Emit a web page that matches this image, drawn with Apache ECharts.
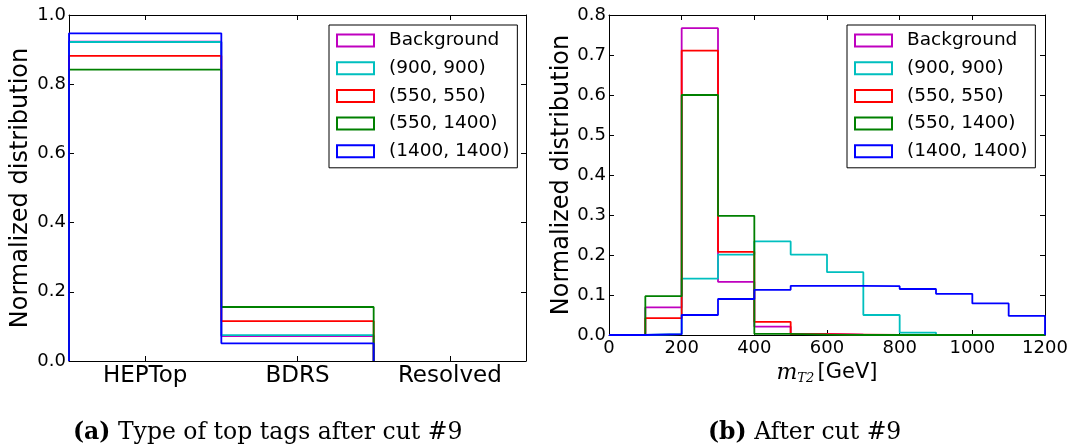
<!DOCTYPE html>
<html>
<head>
<meta charset="utf-8">
<script src="https://cdn.jsdelivr.net/npm/echarts@6/dist/echarts.min.js"></script>
<style>
html,body{margin:0;padding:0;background:#fff;}
#c{width:1073px;height:446px;}
</style>
</head>
<body>
<div id="c"></div>
<script>
// ---------- data ----------
const seriesNames = ['Background', '(900, 900)', '(550, 550)', '(550, 1400)', '(1400, 1400)'];
const seriesColors = ['#bf00bf', '#00bfbf', '#ff0000', '#008000', '#0000ff'];

// panel (a): type of top tags
const tagCategories = ['HEPTop', 'BDRS', 'Resolved'];
const tagBackground = [0.923, 0.072, 0.0];
const tag900_900 = [0.922, 0.075, 0.0];
const tag550_550 = [0.882, 0.115, 0.0];
const tag550_1400 = [0.842, 0.156, 0.0];
const tag1400_1400 = [0.947, 0.051, 0.0];

// panel (b): mT2 histogram, bins of 100 GeV from 0 to 1200
const mt2BinEdges = [0, 100, 200, 300, 400, 500, 600, 700, 800, 900, 1000, 1100, 1200];
const mt2Background = [0.0, 0.069, 0.767, 0.133, 0.021, 0.003, 0.001, 0.0, 0.0, 0.0, 0.0, 0.0];
const mt2_900_900 = [0.0, 0.002, 0.141, 0.201, 0.234, 0.201, 0.157, 0.050, 0.006, 0.0, 0.0, 0.0];
const mt2_550_550 = [0.0, 0.042, 0.711, 0.208, 0.033, 0.002, 0.001, 0.0, 0.0, 0.0, 0.0, 0.0];
const mt2_550_1400 = [0.0, 0.097, 0.600, 0.298, 0.003, 0.001, 0.0, 0.0, 0.0, 0.0, 0.0, 0.0];
const mt2_1400_1400 = [0.0, 0.002, 0.050, 0.090, 0.113, 0.123, 0.123, 0.122, 0.115, 0.103, 0.079, 0.048];

const tagTicks = [0.5, 1.5, 2.5];

// ---------- helpers ----------
// outline of a step histogram; optionally stop after the last non-empty bin
function stepPoints(edges, values, trimTrailingZeros) {
  let n = values.length;
  if (trimTrailingZeros) {
    while (n > 1 && values[n - 1] === 0) n--;
  }
  const pts = [[edges[0], 0]];
  for (let i = 0; i < n; i++) {
    pts.push([edges[i], values[i]]);
    pts.push([edges[i + 1], values[i]]);
  }
  pts.push([edges[n], 0]);
  return pts;
}

const SANS = 'DejaVu Sans';
const SERIF = 'DejaVu Serif';
const tagEdges = [0, 1, 2, 3];
const tagSets = [tagBackground, tag900_900, tag550_550, tag550_1400, tag1400_1400];
const mt2Sets = [mt2Background, mt2_900_900, mt2_550_550, mt2_550_1400, mt2_1400_1400];

const axisLine = { show: true, onZero: false, lineStyle: { color: '#000', width: 1 } };
const tick = { show: true, inside: true, length: 5, lineStyle: { color: '#000', width: 1 } };

function mkSeries(sets, edges, xi, yi, trim) {
  return sets.map((vals, k) => ({
    name: seriesNames[k],
    type: 'line',
    xAxisIndex: xi,
    yAxisIndex: yi,
    data: stepPoints(edges, vals, trim),
    showSymbol: false,
    symbol: 'none',
    lineStyle: { color: seriesColors[k], width: 1.8 },
    itemStyle: { color: seriesColors[k] },
    z: 2 + k,
    silent: true
  }));
}

function legend(left) {
  return {
    orient: 'vertical',
    left: left,
    top: 25,
    icon: 'rect',
    itemWidth: 37,
    itemHeight: 12,
    itemGap: 8.7,
    padding: [6, 8, 7, 7],
    borderColor: '#000',
    borderWidth: 1,
    backgroundColor: '#fff',
    selectedMode: false,
    textStyle: { fontFamily: SANS, fontSize: 18.5, color: '#000', padding: [0, 0, 0, 10] },
    data: seriesNames.map((n, k) => ({
      name: n,
      itemStyle: { color: 'rgba(255,255,255,0)', borderColor: seriesColors[k], borderWidth: 2 }
    }))
  };
}

function caption(tag, text, left) {
  return {
    text: '{b|' + tag + '} ' + text,
    left: left, top: 421, padding: 0,
    textStyle: { fontFamily: SERIF, fontSize: 23.5, fontWeight: 'normal', color: '#000',
      rich: { b: { fontFamily: SERIF, fontSize: 23.5, fontWeight: 'bold', color: '#000' } } }
  };
}

const option = {
  animation: false,
  backgroundColor: '#fff',
  title: [
    caption('(a)', 'Type of top tags after cut #9', 73),
    caption('(b)', 'After cut #9', 708)
  ],
  legend: [legend(329), legend(847)],
  grid: [
    { left: 69, top: 15, width: 457, height: 346 },
    { left: 609, top: 15, width: 436, height: 320 }
  ],
  xAxis: [
    {
      gridIndex: 0, type: 'value', position: 'bottom', min: 0, max: 3,
      axisLine: axisLine, splitLine: { show: false },
      axisTick: Object.assign({}, tick, { customValues: tagTicks }),
      axisLabel: { customValues: tagTicks, fontFamily: SANS, fontSize: 23, color: '#000', margin: 4,
        formatter: v => tagCategories[Math.floor(v)] }
    },
    {
      gridIndex: 0, type: 'value', position: 'top', min: 0, max: 3,
      axisLine: axisLine, splitLine: { show: false },
      axisTick: Object.assign({}, tick, { customValues: tagTicks }),
      axisLabel: { show: false }
    },
    {
      gridIndex: 1, type: 'value', position: 'bottom', min: 0, max: 1200, interval: 200,
      axisLine: axisLine, splitLine: { show: false }, axisTick: tick,
      axisLabel: { fontFamily: SANS, fontSize: 18, color: '#000', margin: 4, showMinLabel: true, showMaxLabel: true,
        formatter: v => String(v) },
      name: '{i|m}{s|T2} {n|[GeV]}',
      nameLocation: 'middle',
      nameGap: 24,
      nameTextStyle: {
        color: '#000',
        rich: {
          i: { fontFamily: SERIF, fontStyle: 'italic', fontSize: 22, color: '#000' },
          s: { fontFamily: SERIF, fontStyle: 'italic', fontSize: 13, color: '#000', padding: [12, 0, 0, 0] },
          n: { fontFamily: SANS, fontSize: 21, color: '#000' }
        }
      }
    },
    {
      gridIndex: 1, type: 'value', position: 'top', min: 0, max: 1200, interval: 200,
      axisLine: axisLine, splitLine: { show: false }, axisTick: tick,
      axisLabel: { show: false }
    }
  ],
  yAxis: [
    {
      gridIndex: 0, type: 'value', position: 'left', min: 0, max: 1.0, interval: 0.2,
      axisLine: axisLine, splitLine: { show: false }, axisTick: tick,
      axisLabel: { fontFamily: SANS, fontSize: 18, color: '#000', margin: 3, formatter: v => v.toFixed(1) },
      name: 'Normalized distribution', nameLocation: 'middle', nameGap: 36,
      nameTextStyle: { fontFamily: SANS, fontSize: 24, color: '#000' }
    },
    {
      gridIndex: 0, type: 'value', position: 'right', min: 0, max: 1.0, interval: 0.2,
      axisLine: axisLine, splitLine: { show: false }, axisTick: tick, axisLabel: { show: false }
    },
    {
      gridIndex: 1, type: 'value', position: 'left', min: 0, max: 0.8, interval: 0.1,
      axisLine: axisLine, splitLine: { show: false }, axisTick: tick,
      axisLabel: { fontFamily: SANS, fontSize: 18, color: '#000', margin: 3, formatter: v => v.toFixed(1) },
      name: 'Normalized distribution', nameLocation: 'middle', nameGap: 35,
      nameTextStyle: { fontFamily: SANS, fontSize: 24, color: '#000' }
    },
    {
      gridIndex: 1, type: 'value', position: 'right', min: 0, max: 0.8, interval: 0.1,
      axisLine: axisLine, splitLine: { show: false }, axisTick: tick, axisLabel: { show: false }
    }
  ],
  series: [].concat(
    mkSeries(tagSets, tagEdges, 0, 0, true),
    mkSeries(mt2Sets, mt2BinEdges, 2, 2, false)
  )
};

const chart = echarts.init(document.getElementById('c'), null, { renderer: 'canvas' });
chart.setOption(option);
</script>
</body>
</html>
